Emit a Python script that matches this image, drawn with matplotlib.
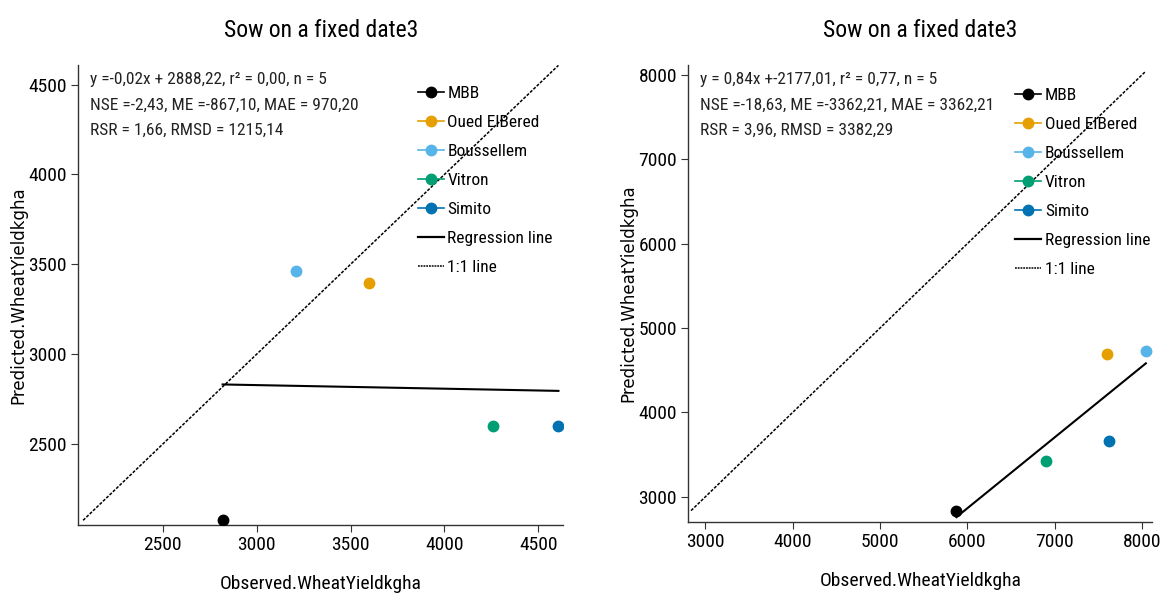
import matplotlib.pyplot as plt
from matplotlib.lines import Line2D

plt.rcParams['font.family'] = ['Liberation Sans Narrow', 'Roboto Condensed', 'Noto Sans Condensed',
                               'Open Sans Condensed', 'Noto Sans', 'DejaVu Sans']
plt.rcParams['font.stretch'] = 'condensed'

# Sites and their colours
sites = ["MBB", "Oued ElBered", "Boussellem", "Vitron", "Simito"]
site_colors = ["#000000", "#E69F00", "#56B4E9", "#009E73", "#0072B2"]

# Panel 1: observed vs predicted wheat yield (kg/ha)
obs_1 = [2819, 3599, 3209, 4261, 4607]
pred_1 = [2076, 3394, 3462, 2603, 2603]
slope_1, intercept_1 = -0.02, 2888.22
stats_1 = ["y =-0,02x + 2888,22, r\u00b2 = 0,00, n = 5",
           "NSE =-2,43, ME =-867,10, MAE = 970,20",
           "RSR = 1,66, RMSD = 1215,14"]

# Panel 2
obs_2 = [5875, 7603, 8045, 6906, 7620]
pred_2 = [2835, 4686, 4729, 3428, 3659]
slope_2, intercept_2 = 0.84, -2177.01
stats_2 = ["y = 0,84x +-2177,01, r\u00b2 = 0,77, n = 5",
           "NSE =-18,63, ME =-3362,21, MAE = 3362,21",
           "RSR = 3,96, RMSD = 3382,29"]

title = "Sow on a fixed date3"
xlabel = "Observed.WheatYieldkgha"
ylabel = "Predicted.WheatYieldkgha"

fig = plt.figure(figsize=(11.61, 6), dpi=100)
ax1 = fig.add_axes([0.0672, 0.125, 0.418, 0.767])
ax2 = fig.add_axes([0.5926, 0.130, 0.400, 0.762])


def draw_panel(ax, obs, pred, slope, intercept, stats, xlim, ylim, xticks, yticks, leg_anchor):
    # 1:1 line spans the combined data range
    lo = min(min(obs), min(pred))
    hi = max(max(obs), max(pred))
    ax.plot([lo, hi], [lo, hi], color="black", linestyle=(0, (2, 1)), linewidth=1.1, zorder=2)

    # regression line over the observed range
    x0, x1 = min(obs), max(obs)
    ax.plot([x0, x1], [slope * x0 + intercept, slope * x1 + intercept],
            color="black", linewidth=1.5, zorder=3)

    for o, p, c in zip(obs, pred, site_colors):
        ax.plot(o, p, marker="o", markersize=7.5, color=c, linestyle="none", zorder=4)

    ax.set_xlim(*xlim)
    ax.set_ylim(*ylim)
    ax.set_xticks(xticks)
    ax.set_yticks(yticks)
    ax.tick_params(labelsize=14, length=5, width=0.8, color="#333333", pad=3)
    for s in ["top", "right"]:
        ax.spines[s].set_visible(False)
    for s in ["left", "bottom"]:
        ax.spines[s].set_color("#333333")
        ax.spines[s].set_linewidth(1.0)

    ax.set_title(title, fontsize=17, pad=20)
    ax.set_xlabel(xlabel, fontsize=14, labelpad=15)
    ax.set_ylabel(ylabel, fontsize=12, family="DejaVu Sans", stretch="normal", labelpad=1)

    ax.text(0.025, 0.985, "\n".join(stats), transform=ax.transAxes, va="top", ha="left",
            fontsize=12.5, linespacing=1.9, color="#222222")

    handles = [Line2D([], [], color=c, marker="o", markersize=7.5, linewidth=1.2) for c in site_colors]
    handles.append(Line2D([], [], color="black", linewidth=1.6))
    handles.append(Line2D([], [], color="black", linestyle=(0, (1.2, 0.6)), linewidth=1.1))
    ax.legend(handles, sites + ["Regression line", "1:1 line"], loc="upper left",
              bbox_to_anchor=leg_anchor, frameon=False, fontsize=12.5, handlelength=1.5,
              handletextpad=0.2, labelspacing=0.8, borderpad=0, borderaxespad=0)


draw_panel(ax1, obs_1, pred_1, slope_1, intercept_1, stats_1,
           (2049, 4633), (2050, 4610), [2500, 3000, 3500, 4000, 4500],
           [2500, 3000, 3500, 4000, 4500], (0.70, 0.955))
draw_panel(ax2, obs_2, pred_2, slope_2, intercept_2, stats_2,
           (2800, 8120), (2700, 8120), [3000, 4000, 5000, 6000, 7000, 8000],
           [3000, 4000, 5000, 6000, 7000, 8000], (0.705, 0.95))

fig.savefig("out.png", dpi=100)
